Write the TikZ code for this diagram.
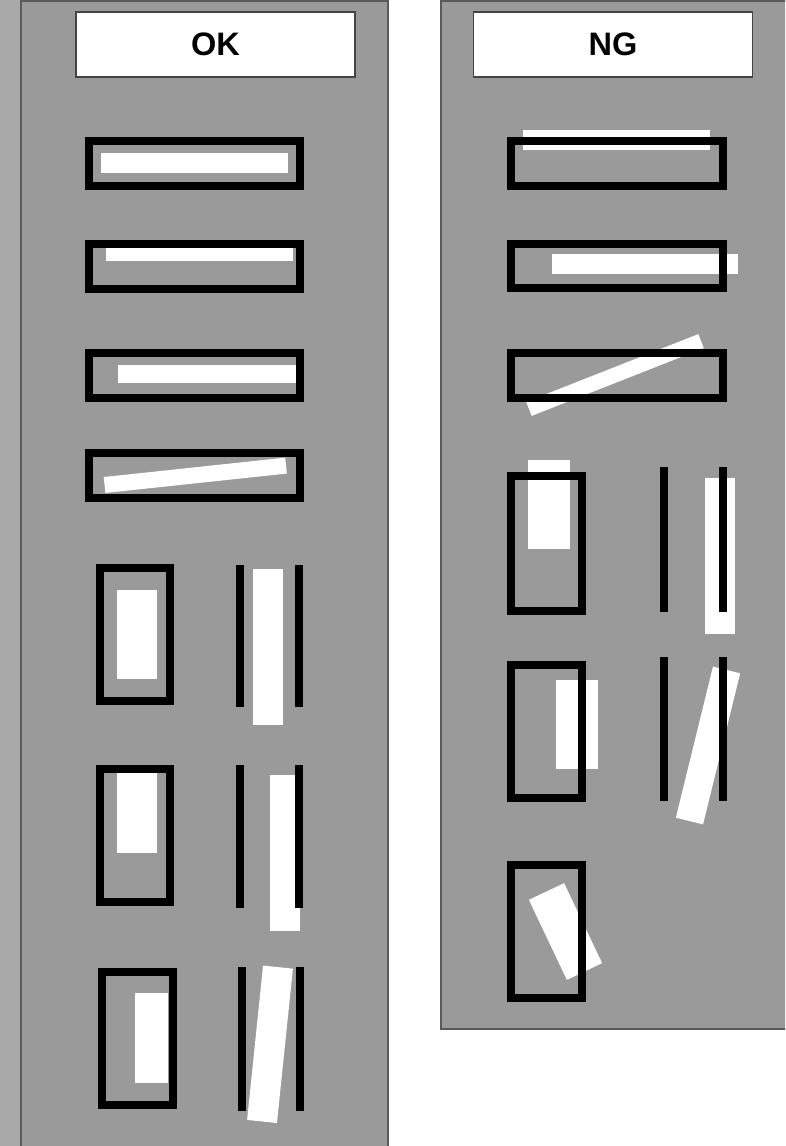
\documentclass[tikz,border=0pt]{standalone}
\usepackage{fontspec}
\setmainfont{Liberation Sans}
\definecolor{panelgray}{HTML}{9A9A9A}
\definecolor{stripgray}{HTML}{A9A9A9}
\definecolor{edgegray}{HTML}{5A5A5A}
\definecolor{boxedge}{HTML}{444444}
\begin{document}
\begin{tikzpicture}[x=1pt,y=-1pt,
  frame/.style={draw=black, line width=8pt},
  rail/.style={draw=black, line width=8pt},
  wbar/.style={fill=white},
  panel/.style={fill=panelgray, draw=edgegray, line width=2pt},
  titlebox/.style={fill=white, draw=boxedge, line width=1.5pt, minimum width=279pt,
    minimum height=65pt, inner sep=0pt, font=\fontsize{32.5}{39}\selectfont\bfseries}]
\useasboundingbox (0,0) rectangle (785,1146);
\clip (0,0) rectangle (785,1146);
\fill[white] (0,0) rectangle (785,1146);
% left strip and panels
\fill[stripgray] (0,0) rectangle (21,1146);
\filldraw[panel] (21,1) rectangle (388,1160);
\filldraw[panel] (441,1) rectangle (800,1029);
% titles
\node[titlebox] (ok) at (215.5,44.5) {OK};
\node[titlebox] (ng) at (613,44.5) {NG};

% ---------- OK column: white bars ----------
\fill[wbar] (101,153) rectangle (288,173);
\fill[wbar] (106,248) rectangle (293,261);
\fill[wbar] (118,365) rectangle (296,383);
\fill[wbar, shift={(195.3,475.3)}, rotate=6.1] (-91.25,-8) rectangle (91.25,8);
\fill[wbar] (117,590) rectangle (157,679);
\fill[wbar] (117,773) rectangle (157,853);
\fill[wbar] (135,993) rectangle (168,1083);
\fill[wbar] (253,569) rectangle (283,725);
\fill[wbar] (270,775) rectangle (300,931);
\fill[wbar, shift={(270,1044.3)}, rotate=-5.9] (-15,-77.6) rectangle (15,77.6);
% ---------- OK column: frames and rails ----------
\draw[frame] (89,141) rectangle (300,186);
\draw[frame] (89,244) rectangle (300,289);
\draw[frame] (89,353) rectangle (300,398);
\draw[frame] (89,453) rectangle (300,498);
\draw[frame] (100,568) rectangle (170,701);
\draw[frame] (100,769) rectangle (170,902);
\draw[frame] (102,972) rectangle (173,1105);
\draw[rail] (240,565) -- (240,707);
\draw[rail] (298.5,565) -- (298.5,707);
\draw[rail] (240,765) -- (240,908);
\draw[rail] (298.5,765) -- (298.5,908);
\draw[rail] (241.5,967) -- (241.5,1111);
\draw[rail] (299.5,967) -- (299.5,1111);

% ---------- NG column: white bars ----------
\fill[wbar] (523,130) rectangle (710,150);
\fill[wbar] (552,254) rectangle (738,274);
\fill[wbar, shift={(615,375)}, rotate=21.5] (-92.5,-7.5) rectangle (92.5,7.5);
\fill[wbar] (528,460) rectangle (570,549);
\fill[wbar] (556,680) rectangle (598,769);
\fill[wbar, shift={(565.5,931.5)}, rotate=25.4] (-19.5,-44.3) rectangle (19.5,44.3);
\fill[wbar] (705,478) rectangle (735,634);
\fill[wbar, shift={(708,745.5)}, rotate=-13.8] (-14,-77.8) rectangle (14,77.8);
% ---------- NG column: frames and rails ----------
\draw[frame] (511,141) rectangle (723,186);
\draw[frame] (511,244) rectangle (723,288);
\draw[frame] (511,353) rectangle (723,398);
\draw[frame] (511,476) rectangle (582,611);
\draw[frame] (511,665) rectangle (582,798);
\draw[frame] (511,865) rectangle (582,998);
\draw[rail] (663.5,467) -- (663.5,612);
\draw[rail] (722.5,467) -- (722.5,612);
\draw[rail] (663.5,657) -- (663.5,801);
\draw[rail] (722.5,657) -- (722.5,801);
\end{tikzpicture}
\end{document}
